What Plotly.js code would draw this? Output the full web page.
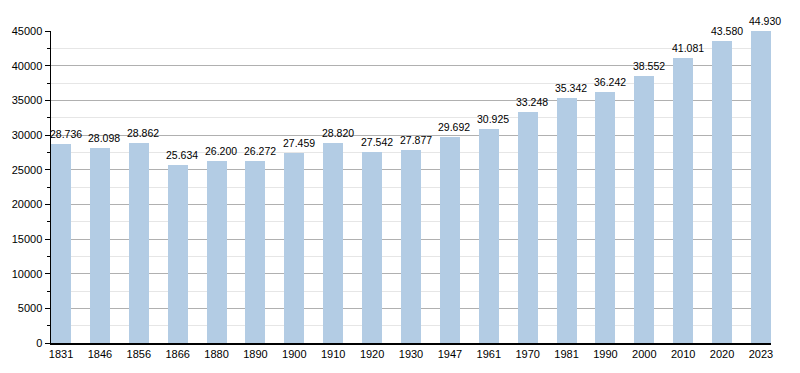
<!DOCTYPE html>
<html>
<head>
<meta charset="utf-8">
<script src="https://cdn.plot.ly/plotly-3.0.1.min.js"></script>
<style>html,body{margin:0;padding:0;background:#fff;}#chart{width:800px;height:373px;}</style>
</head>
<body>
<div id="chart"></div>
<script>
const years = ["1831","1846","1856","1866","1880","1890","1900","1910","1920","1930","1947","1961","1970","1981","1990","2000","2010","2020","2023"];
const population = [28736,28098,28862,25634,26200,26272,27459,28820,27542,27877,29692,30925,33248,35342,36242,38552,41081,43580,44930];
const yTicks = [0,5000,10000,15000,20000,25000,30000,35000,40000,45000];

const idx = years.map((_, i) => i);
const labels = population.map(v => {
  const s = String(v);
  return s.length > 3 ? s.slice(0, s.length - 3) + "." + s.slice(-3) : s;
});

const trace = {
  type: "bar",
  x: idx,
  y: population,
  width: 0.515,
  marker: {color: "#b3cce4", line: {width: 0}},
  hoverinfo: "none"
};

const annotations = idx.map(i => ({
  x: i, y: population[i], xref: "x", yref: "y",
  text: labels[i], showarrow: false,
  xanchor: "center", yanchor: "bottom",
  xshift: 4.5, yshift: 2,
  font: {family: "Liberation Sans, Arial, sans-serif", size: 10.5, color: "#000"}
}));

const layout = {
  width: 800, height: 373,
  margin: {l: 50.5, r: 29, t: 31, b: 30},
  paper_bgcolor: "#fff",
  plot_bgcolor: "#fff",
  showlegend: false,
  bargap: 0,
  annotations: annotations,
  font: {family: "Liberation Sans, Arial, sans-serif", size: 11, color: "#000"},
  xaxis: {
    range: [-0.2575, 18.2575],
    tickmode: "array",
    tickvals: idx,
    ticktext: years,
    showgrid: false,
    zeroline: false,
    showline: true,
    linecolor: "#000",
    linewidth: 1.5,
    ticks: "",
    tickfont: {size: 11, color: "#000"},
    fixedrange: true
  },
  yaxis: {
    range: [0, 45000],
    tickmode: "array",
    tickvals: yTicks,
    ticktext: yTicks.map(String),
    showgrid: true,
    gridcolor: "#b0b0b0",
    gridwidth: 1,
    zeroline: false,
    showline: true,
    linecolor: "#000",
    linewidth: 1.5,
    ticks: "outside",
    ticklen: 5,
    tickcolor: "#000",
    tickwidth: 1,
    tickfont: {size: 11, color: "#000"},
    minor: {
      dtick: 2500,
      tick0: 0,
      showgrid: true,
      gridcolor: "#e6e6e6",
      gridwidth: 1,
      ticks: "outside",
      ticklen: 2.5,
      tickcolor: "#000"
    },
    fixedrange: true
  }
};

Plotly.newPlot("chart", [trace], layout, {displayModeBar: false, staticPlot: true});
</script>
</body>
</html>
